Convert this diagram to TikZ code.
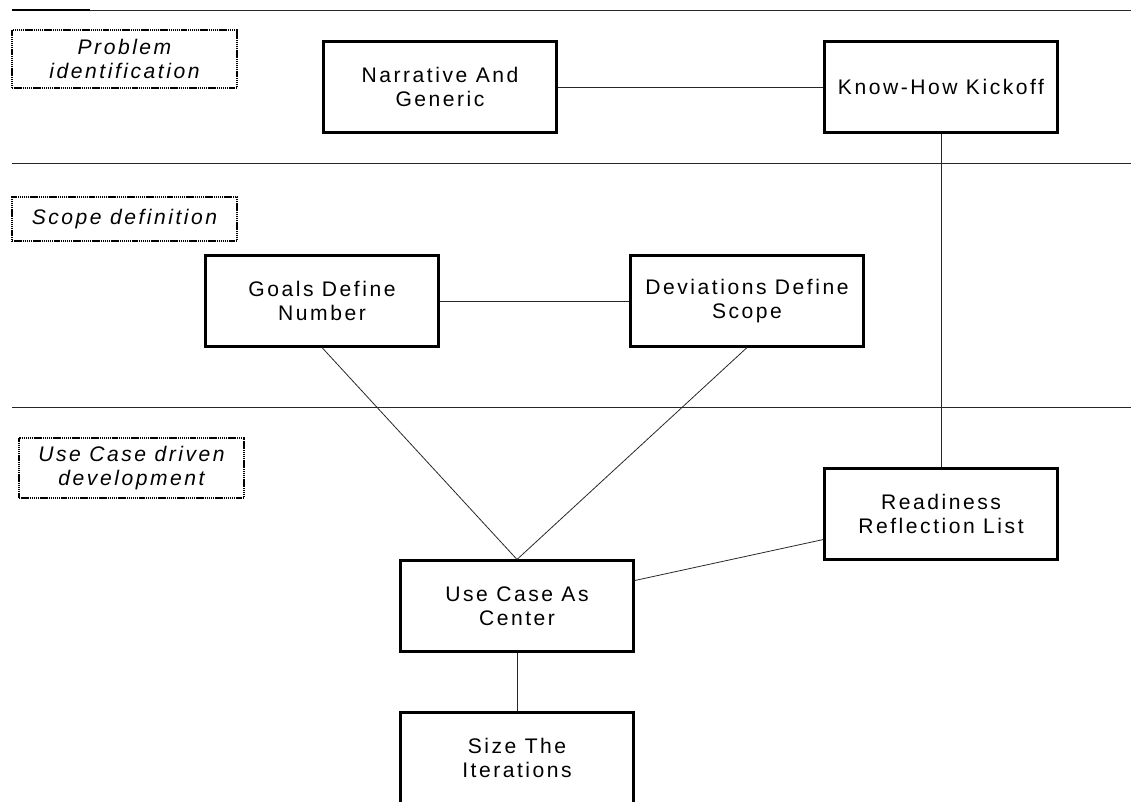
\documentclass[tikz,border=0pt]{standalone}
\usepackage{fontspec}
\newfontfamily\boxfont[LetterSpace=12]{Liberation Sans}

\begin{document}
\begin{tikzpicture}[x=0.02cm,y=-0.02cm,every text node part/.style={align=center},
stage/.style={draw,line width=1.2pt,minimum width=4.66cm,minimum height=1.82cm,inner sep=0pt,font=\boxfont\fontsize{12}{13.6}\selectfont},
lane/.style={draw,line width=1pt,dash pattern=on 0.8pt off 0.4pt,minimum width=4.5cm,inner sep=0pt,font=\boxfont\itshape\fontsize{12}{13.6}\selectfont},
link/.style={line width=0.45pt,black!85}]
\clip (0,0) rectangle (1131,801);
\draw[link] (12,10) -- (1131,10);
\draw[line width=1.3pt] (12,10) -- (90,10);
\draw[link] (12,163) -- (1131,163);
\draw[link] (12,407) -- (1131,407);
\node [lane,minimum height=1.16cm] (prob) at (124.5,59) {Problem\\identification};
\node [lane,minimum height=0.88cm] (scope) at (124.5,219) {Scope definition};
\node [lane,minimum height=1.2cm] (ucdd) at (131.5,468) {Use Case driven\\development};
\node [stage] (narr) at (440,87) {Narrative And\\Generic};
\node [stage] (kick) at (941,87) {Know-How Kickoff};
\node [stage] (goals) at (322,301) {Goals Define\\Number};
\node [stage] (dev) at (747,301) {Deviations Define\\Scope};
\node [stage] (ready) at (941,514) {Readiness\\Reflection List};
\node [stage] (center) at (517,606) {Use Case As\\Center};
\node [stage] (size) at (517,758) {Size The\\Iterations};
\draw[link] (narr) -- (kick);
\draw[link] (kick) -- (ready);
\draw[link] (goals) -- (dev);
\draw[link] (goals.south) -- (center.north);
\draw[link] (dev.south) -- (center.north);
\draw[link] (ready) -- (center);
\draw[link] (center) -- (size);
\end{tikzpicture}
\end{document}
